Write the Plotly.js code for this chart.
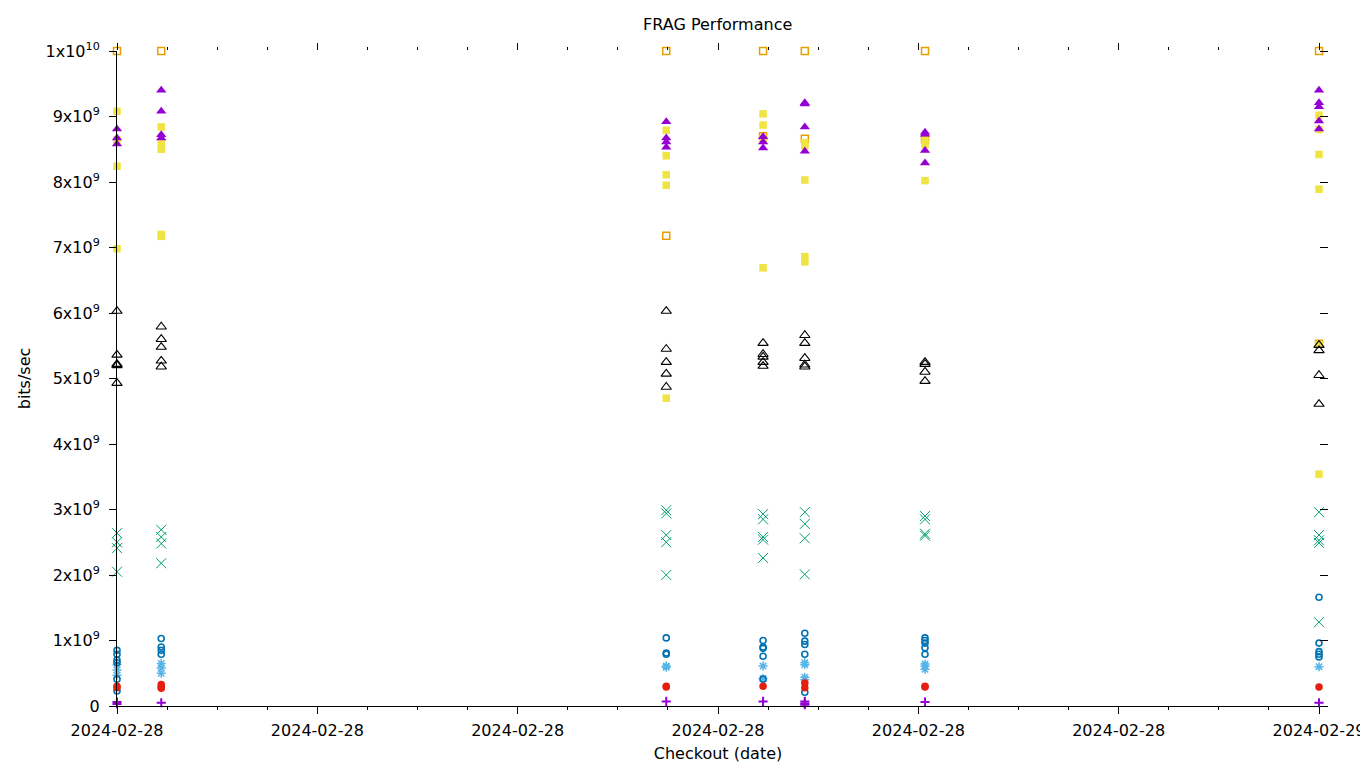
<!DOCTYPE html>
<html>
<head>
<meta charset="utf-8">
<script src="https://cdn.plot.ly/plotly-3.0.1.min.js"></script>
<style>html,body{margin:0;padding:0;background:#fff;}#chart{width:1360px;height:768px;}</style>
</head>
<body>
<div id="chart"></div>
<script>
// Checkout timestamps (x positions)
const checkouts = [
  '2024-02-28 00:00', '2024-02-28 00:53', '2024-02-28 10:58', '2024-02-28 12:54',
  '2024-02-28 13:44', '2024-02-28 16:08', '2024-02-29 00:00'
];

// Values (bits/sec) per checkout for each series
const plusPurple = [
  [0.06e9, 0.03e9], [0.05e9], [0.07e9], [0.07e9], [0.07e9, 0.04e9, 0.02e9], [0.06e9], [0.05e9]
];
const crossGreen = [
  [2.64e9, 2.50e9, 2.41e9, 2.05e9], [2.69e9, 2.58e9, 2.48e9, 2.18e9],
  [2.99e9, 2.94e9, 2.61e9, 2.50e9, 2.00e9], [2.93e9, 2.85e9, 2.58e9, 2.54e9, 2.26e9],
  [2.96e9, 2.78e9, 2.56e9, 2.01e9], [2.90e9, 2.85e9, 2.63e9, 2.60e9],
  [2.96e9, 2.61e9, 2.53e9, 2.49e9, 1.28e9]
];
const starBlue = [
  [0.63e9, 0.55e9, 0.47e9], [0.65e9, 0.58e9, 0.50e9], [0.61e9, 0.59e9], [0.61e9, 0.42e9],
  [0.66e9, 0.63e9, 0.44e9, 0.40e9], [0.64e9, 0.61e9, 0.56e9], [0.60e9]
];
const openSquareOrange = [
  [10.0e9], [10.0e9], [10.0e9, 7.18e9], [10.0e9, 8.70e9], [10.0e9, 8.66e9], [10.0e9, 8.65e9], [10.0e9, 5.53e9]
];
const squareYellow = [
  [9.08e9, 8.64e9, 8.24e9, 6.98e9], [8.84e9, 8.58e9, 8.50e9, 7.20e9, 7.17e9],
  [8.79e9, 8.40e9, 8.11e9, 7.95e9, 4.70e9], [9.04e9, 8.87e9, 8.66e9, 6.69e9],
  [8.60e9, 8.55e9, 8.03e9, 6.86e9, 6.78e9], [8.63e9, 8.57e9, 8.02e9],
  [9.02e9, 8.80e9, 8.42e9, 7.89e9, 5.52e9, 3.54e9]
];
const openCircleBlue = [
  [0.85e9, 0.79e9, 0.70e9, 0.66e9, 0.41e9, 0.23e9], [1.03e9, 0.90e9, 0.85e9, 0.79e9],
  [1.04e9, 0.81e9, 0.79e9], [1.00e9, 0.90e9, 0.88e9, 0.76e9, 0.41e9],
  [1.11e9, 0.99e9, 0.94e9, 0.79e9, 0.21e9], [1.04e9, 1.00e9, 0.96e9, 0.89e9, 0.79e9],
  [1.66e9, 0.96e9, 0.83e9, 0.79e9, 0.75e9]
];
const circleRed = [
  [0.30e9, 0.28e9], [0.33e9, 0.29e9, 0.27e9], [0.30e9, 0.29e9], [0.30e9],
  [0.35e9, 0.28e9], [0.30e9, 0.29e9], [0.29e9]
];
const openTriangleBlack = [
  [6.03e9, 5.36e9, 5.22e9, 5.20e9, 4.93e9], [5.79e9, 5.60e9, 5.48e9, 5.27e9, 5.18e9],
  [6.03e9, 5.45e9, 5.25e9, 5.07e9, 4.87e9], [5.54e9, 5.37e9, 5.33e9, 5.25e9, 5.19e9],
  [5.66e9, 5.54e9, 5.31e9, 5.21e9, 5.18e9], [5.25e9, 5.22e9, 5.10e9, 4.96e9],
  [5.51e9, 5.43e9, 5.05e9, 4.61e9]
];
const triangleViolet = [
  [8.81e9, 8.67e9, 8.58e9], [9.40e9, 9.08e9, 8.72e9, 8.67e9], [8.92e9, 8.67e9, 8.61e9, 8.53e9],
  [8.69e9, 8.61e9, 8.52e9], [9.21e9, 9.19e9, 8.84e9, 8.47e9], [8.76e9, 8.73e9, 8.48e9, 8.29e9],
  [9.40e9, 9.21e9, 9.15e9, 8.93e9, 8.81e9]
];

const yTickVals = [0, 1e9, 2e9, 3e9, 4e9, 5e9, 6e9, 7e9, 8e9, 9e9, 1e10];
const yTickText = ['0', '1x10<sup>9</sup>', '2x10<sup>9</sup>', '3x10<sup>9</sup>', '4x10<sup>9</sup>',
  '5x10<sup>9</sup>', '6x10<sup>9</sup>', '7x10<sup>9</sup>', '8x10<sup>9</sup>', '9x10<sup>9</sup>', '1x10<sup>10</sup>'];

function flatten(series) {
  const xs = [], ys = [];
  series.forEach((vals, i) => vals.forEach(v => { xs.push(checkouts[i]); ys.push(v); }));
  return {x: xs, y: ys};
}

const styles = [
  [plusPurple, 'cross-thin-open', 6.5, '#9400d3', 2],
  [crossGreen, 'x-thin-open', 10, '#009e73', 1],
  [starBlue, 'asterisk-open', 7.5, '#56b4e9', 1.5],
  [openSquareOrange, 'square-open', 7, '#e69f00', 1.5],
  [squareYellow, 'square', 7.5, '#f0e442', 0],
  [openCircleBlue, 'circle-open', 6, '#0072b2', 1.6],
  [circleRed, 'circle', 7.5, '#e51e10', 0],
  [openTriangleBlack, 'triangle-up-open', 9, '#000000', 1.1],
  [triangleViolet, 'triangle-up', 9, '#9400d3', 0]
];

const traces = styles.map(([data, sym, size, color, lw]) => {
  const f = flatten(data);
  return {
    type: 'scatter', mode: 'markers', x: f.x, y: f.y, cliponaxis: false,
    marker: {symbol: sym, size: size, color: color, line: {color: color, width: lw}},
    hoverinfo: 'x+y', showlegend: false
  };
});
// invisible trace to anchor the mirror (top/right) tick axes
traces.push({type: 'scatter', mode: 'markers', x: [checkouts[0]], y: [0], xaxis: 'x2', yaxis: 'y2',
  marker: {opacity: 0}, hoverinfo: 'skip', showlegend: false});

const xRange = ['2024-02-28 00:00', '2024-02-29 00:00'];
const font = {family: 'DejaVu Sans, sans-serif', size: 16, color: '#000'};

const layout = {
  width: 1360, height: 768,
  margin: {l: 117, r: 41, t: 51, b: 62},
  paper_bgcolor: '#fff', plot_bgcolor: '#fff',
  font: font,
  showlegend: false,
  title: {text: 'FRAG Performance', x: 0.5277, xanchor: 'center', y: 0.968, yanchor: 'middle', font: {size: 16}},
  xaxis: {
    type: 'date', range: xRange, showgrid: false, zeroline: false,
    showline: true, linecolor: '#000', linewidth: 1,
    ticks: 'outside', ticklen: 7, tickwidth: 1, tickcolor: '#000',
    tick0: '2024-02-28 00:00', dtick: 14400000, tickformat: '%Y-%m-%d',
    ticklabelstandoff: 3, ticklabeloverflow: 'allow',
    minor: {ticks: 'outside', ticklen: 3, dtick: 3600000, tick0: '2024-02-28 00:00', tickcolor: '#000', showgrid: false},
    title: {text: 'Checkout (date)', standoff: 8, font: {size: 16}},
    tickfont: {size: 16}
  },
  xaxis2: {
    type: 'date', range: xRange, overlaying: 'x', side: 'top', anchor: 'y2',
    showgrid: false, zeroline: false, showline: false, showticklabels: false,
    ticks: 'outside', ticklen: 7, tickwidth: 1, tickcolor: '#000',
    tick0: '2024-02-28 00:00', dtick: 14400000,
    minor: {ticks: 'outside', ticklen: 3, dtick: 3600000, tick0: '2024-02-28 00:00', tickcolor: '#000', showgrid: false}
  },
  yaxis: {
    range: [0, 1e10], showgrid: false, zeroline: false,
    showline: true, linecolor: '#000', linewidth: 1,
    ticks: 'outside', ticklen: 7, tickwidth: 1, tickcolor: '#000',
    tickmode: 'array', tickvals: yTickVals, ticktext: yTickText,
    ticklabelstandoff: 6,
    title: {text: 'bits/sec', standoff: 10, font: {size: 16}},
    tickfont: {size: 16}
  },
  yaxis2: {
    range: [0, 1e10], overlaying: 'y', side: 'right', anchor: 'x2',
    showgrid: false, zeroline: false, showline: false, showticklabels: false,
    ticks: 'outside', ticklen: 8, tickwidth: 1, tickcolor: '#000',
    tickmode: 'array', tickvals: yTickVals
  }
};

Plotly.newPlot('chart', traces, layout, {displayModeBar: false, staticPlot: true});
</script>
</body>
</html>
